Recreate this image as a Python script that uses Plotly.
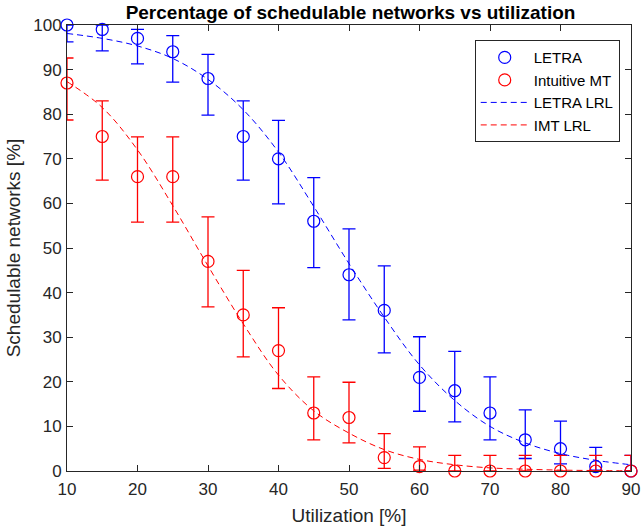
import plotly.graph_objects as go

util = [10, 15, 20, 25, 30, 35, 40, 45, 50, 55, 60, 65, 70, 75, 80, 85, 90]

letra = [100, 99, 97, 94, 88, 75, 70, 56, 44, 36, 21, 18, 13, 7, 5, 1, 0]
letra_hi = [100, 100, 99.0, 97.6, 93.4, 83.0, 78.6, 65.8, 54.3, 46.0, 30.1, 26.8, 21.1, 13.7, 11.2, 5.3, 3.5]
letra_lo = [96.2, 94.2, 91.3, 87.2, 79.8, 65.2, 59.9, 45.6, 33.9, 26.5, 13.4, 11.0, 7.0, 2.8, 1.6, 0.2, 0]

imt = [87, 75, 66, 66, 47, 35, 27, 13, 12, 3, 1, 0, 0, 0, 0, 0, 0]
imt_hi = [92.6, 83.0, 74.9, 74.9, 57.0, 45.0, 36.6, 21.1, 19.9, 8.4, 5.4, 3.5, 3.5, 3.5, 3.5, 3.5, 3.5]
imt_lo = [78.7, 65.2, 55.8, 55.8, 36.8, 25.6, 18.5, 7.0, 6.3, 0.6, 0.2, 0, 0, 0, 0, 0, 0]

letra_lrl = [98.1, 97.0, 95.3, 92.5, 87.8, 81.0, 71.5, 59.3, 46.5, 34.5, 23.8, 15.8, 10.0, 6.3, 3.9, 2.4, 1.4]
imt_lrl = [87.3, 81.5, 72.0, 59.5, 46.0, 33.0, 21.5, 13.5, 8.5, 4.8, 2.6, 1.4, 0.7, 0.4, 0.2, 0.1, 0.05]

x_ticks = [10, 20, 30, 40, 50, 60, 70, 80, 90]
y_ticks = [0, 10, 20, 30, 40, 50, 60, 70, 80, 90, 100]

BLUE = "#0000FF"
RED = "#FF0000"
AX = "#262626"
FONT = "Liberation Sans, Arial, sans-serif"

def err(vals, hi, lo):
    return dict(type="data", symmetric=False,
                array=[h - v for v, h in zip(vals, hi)],
                arrayminus=[v - l for v, l in zip(vals, lo)],
                thickness=1.3, width=6.5)

fig = go.Figure()
fig.add_trace(go.Scatter(
    x=util, y=letra, mode="markers", name="LETRA",
    marker=dict(symbol="circle-open", size=12, color=BLUE, line=dict(width=1.2, color=BLUE)),
    error_y=dict(err(letra, letra_hi, letra_lo), color=BLUE),
    cliponaxis=False))
fig.add_trace(go.Scatter(
    x=util, y=imt, mode="markers", name="Intuitive MT",
    marker=dict(symbol="circle-open", size=12, color=RED, line=dict(width=1.2, color=RED)),
    error_y=dict(err(imt, imt_hi, imt_lo), color=RED),
    cliponaxis=False))
fig.add_trace(go.Scatter(
    x=util, y=letra_lrl, mode="lines", name="LETRA LRL",
    line=dict(color=BLUE, width=1, dash="6px,4px", shape="spline", smoothing=1.0)))
fig.add_trace(go.Scatter(
    x=util, y=imt_lrl, mode="lines", name="IMT LRL",
    line=dict(color=RED, width=1, dash="6px,4px", shape="spline", smoothing=1.0)))

axis_common = dict(showline=True, linecolor=AX, linewidth=1, mirror="ticks",
                   ticks="inside", ticklen=6, tickcolor=AX, showgrid=False, zeroline=False,
                   automargin=False,
                   tickfont=dict(family=FONT, size=17, color=AX))

fig.update_layout(
    width=642, height=531,
    margin=dict(l=67, r=11, t=25, b=60),
    paper_bgcolor="white", plot_bgcolor="white",
    title=dict(text="<b>Percentage of schedulable networks vs utilization</b>",
               x=0.546, xanchor="center", y=0.976, yanchor="middle",
               font=dict(family=FONT, size=19, color="black")),
    xaxis=dict(axis_common, range=[10, 90], tickvals=x_ticks, ticklabelstandoff=3,
               title=dict(text="Utilization [%]", font=dict(family=FONT, size=19, color=AX), standoff=10)),
    yaxis=dict(axis_common, range=[0, 100], tickvals=y_ticks, ticklabelstandoff=1,
               title=dict(text="Schedulable networks [%]", font=dict(family=FONT, size=19, color=AX), standoff=7)),
    legend=dict(x=0.98, y=0.966, xanchor="right", yanchor="top",
                bgcolor="white", bordercolor=AX, borderwidth=1,
                font=dict(family=FONT, size=15, color="black"),
                itemwidth=48, tracegroupgap=0),
    showlegend=True,
)

fig.write_html("out.html")
